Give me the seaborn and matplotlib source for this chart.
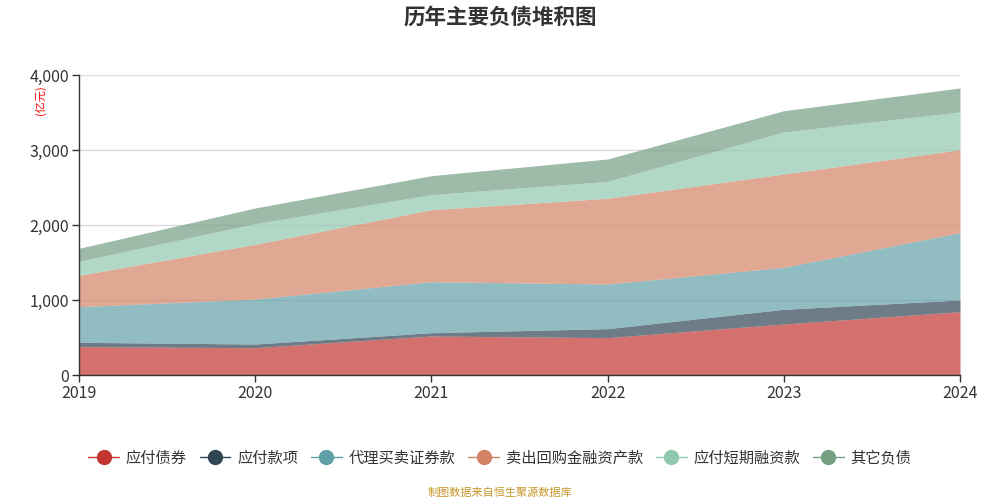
import numpy as np
import pandas as pd
import seaborn as sns
import matplotlib.pyplot as plt
from matplotlib.lines import Line2D
from matplotlib.ticker import FuncFormatter

# 数据 (亿元)
years = [2019, 2020, 2021, 2022, 2023, 2024]
bonds = [378, 364, 520, 498, 680, 844]          # 应付债券
payables = [58, 49, 44, 120, 196, 156]          # 应付款项
agency = [475, 600, 680, 595, 560, 898]         # 代理买卖证券款
repo = [418, 729, 960, 1143, 1244, 1106]        # 卖出回购金融资产款
short_fin = [187, 276, 200, 226, 560, 503]      # 应付短期融资款
others = [173, 209, 254, 298, 284, 320]         # 其它负债

names = ['应付债券', '应付款项', '代理买卖证券款', '卖出回购金融资产款', '应付短期融资款', '其它负债']
colors = ['#c23531', '#2f4554', '#61a0a8', '#d48265', '#91c7ae', '#749f83']

df = pd.DataFrame({'year': years, names[0]: bonds, names[1]: payables, names[2]: agency,
                   names[3]: repo, names[4]: short_fin, names[5]: others})

sns.set_theme(style='white')
plt.rcParams['font.family'] = ['Noto Sans CJK SC', 'DejaVu Sans']
plt.rcParams['axes.unicode_minus'] = False

fig = plt.figure(figsize=(10, 5), dpi=100)
ax = fig.add_axes([0.079, 0.25, 0.881, 0.60])

ax.stackplot(df['year'], [df[n] for n in names], colors=colors, alpha=0.7, linewidth=0)

ax.set_xlim(2019, 2024)
ax.set_ylim(0, 4000)
ax.set_yticks([0, 1000, 2000, 3000, 4000])
ax.set_xticks(years)
ax.yaxis.set_major_formatter(FuncFormatter(lambda v, p: f'{int(v):,}'))
ax.grid(axis='y', color='#cccccc', linewidth=1)
for g in ax.get_ygridlines():
    g.set_zorder(3)
    g.set_alpha(0.7)

for s in ['top', 'right']:
    ax.spines[s].set_visible(False)
for s in ['left', 'bottom']:
    ax.spines[s].set_color('#333333')
    ax.spines[s].set_linewidth(1)
ax.tick_params(axis='both', colors='#333333', labelsize=11.5, length=5, width=1,
               direction='out', left=True, bottom=True)
ax.tick_params(axis='x', pad=2)
ax.tick_params(axis='y', pad=2)

fig.text(0.5, 0.965, '历年主要负债堆积图', ha='center', va='center',
         fontsize=15.5, fontweight='bold', color='#333333')
fig.text(0.040, 0.80, '(亿元)', rotation=90, ha='center', va='center',
         fontsize=8, color='red')

handles = [Line2D([0], [0], color=c, marker='o', markersize=10, linewidth=1,
                  markerfacecolor=c, markeredgecolor=c) for c in colors]
fig.legend(handles, names, loc='center', bbox_to_anchor=(0.5, 0.084), ncol=6,
           frameon=False, fontsize=11, handlelength=2.0, handletextpad=0.45,
           columnspacing=0.85, labelcolor='#333333')

fig.text(0.5, 0.014, '制图数据来自恒生聚源数据库', ha='center', va='center',
         fontsize=8, color='#c8962a')

fig.savefig('out.png', dpi=100)
